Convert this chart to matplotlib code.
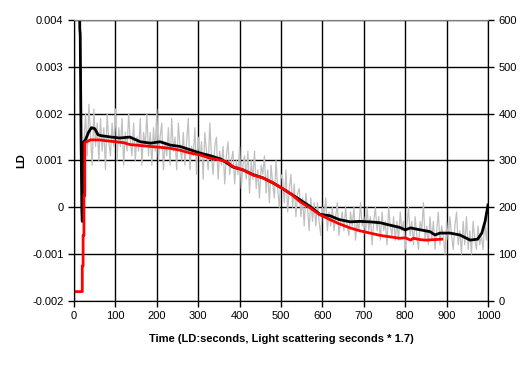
import numpy as np
import matplotlib

matplotlib.use("Agg")
import matplotlib.pyplot as plt

plt.rcParams["font.family"] = ["Liberation Sans", "DejaVu Sans"]

# LD, smoothed (units of 1e-4)
ld_smooth_t = [13, 14, 15, 17, 18, 19, 20, 21, 22, 24, 28, 35, 42, 50, 58, 65,
               90, 110, 135, 160, 185, 208, 232, 256, 280, 304, 330, 355, 384,
               408, 432, 456, 481, 502, 525, 546, 570, 594, 618, 640, 667, 690,
               715, 740, 763, 787, 800, 813, 836, 860, 872, 884, 908, 932, 957,
               975, 985, 993, 1000]
ld_smooth = [45, 38, 37, 15, 7, -1, -3, 3, 10, 14, 14.5, 16, 17, 16.8, 15.5, 15.3,
             15, 14.8, 15, 14, 13.7, 14, 13.3, 13, 12.3, 11.6, 11, 10.3, 8.6,
             8, 7, 6.3, 5.2, 4.1, 2.8, 1.6, 0.2, -1.5, -1.8, -2.6, -3.1, -3.0,
             -3.1, -3.3, -3.8, -4.3, -4.8, -4.4, -4.8, -5.2, -5.9, -5.5, -5.5, -5.9, -7,
             -6.8, -5.5, -3, 0.5]

# LD, raw (units of 1e-4), one value every 4 s from 24 s
ld_raw_start = 24
ld_raw_step = 4
ld_raw = [
    14, 20, 11, 22, 15, 9, 21, 13, 18, 10,
    19, 12, 17, 8, 20, 14, 11, 18, 13, 21,
    10, 17, 13, 19, 9, 16, 12, 20, 14, 11,
    18, 10, 15, 12, 19, 9, 16, 13, 20, 11,
    16, 9, 17, 12, 21, 10, 15, 18, 8, 14,
    11, 17, 9, 19, 12, 15, 8, 18, 13, 10,
    16, 9, 14, 19, 8, 13, 11, 17, 7, 15,
    10, 14, 6, 16, 12, 8, 18, 11, 7, 13,
    15, 6, 12, 9, 13, 5, 11, 14, 7, 10,
    12, 5, 10, 7, 13, 4, 9, 11, 6, 12,
    3, 10, 6, 12, 4, 8, 2, 9, 7, 11,
    3, 8, 1, 9, 5, 2, 10, 4, 0, 7,
    6, 1, 8, -1, 4, 7, 0, 5, -2, 3,
    4, -2, 2, -4, 3, 0, -5, 2, -3, 1,
    -4, 1, -3, -6, 0, -2, 2, -5, -1, -4,
    0, -5, -2, 1, -6, -3, -1, -5, 0, -4,
    -6, -1, -4, 0, -7, -3, -5, 1, -4, -2,
    -6, 0, -5, -2, -8, -3, 0, -5, -2, -7,
    -1, -5, -3, -8, 0, -4, -6, -2, -7, -3,
    -7, -1, -5, -3, -9, -4, 0, -6, -3, -8,
    -2, -6, -9, -3, -5, 1, -7, -4, -8, -2,
    -7, -3, -9, -5, -1, -8, -4, -6, -10, -3,
    -7, -2, -6, -9, -4, -1, -8, -5, -10, -3,
    -8, -2, -9, -5, -10, -3, -7, -9, -4, -8,
    -6, -9, -3, -7, -2,
]

# light scattering (right axis)
ls_t = [0, 20, 20, 22, 22, 24, 24, 26, 26, 30, 40, 60, 80, 100, 120, 135, 160,
        184, 210, 232, 256, 280, 304, 328, 353, 370, 384, 408, 432, 456, 481,
        502, 525, 546, 570, 594, 618, 640, 667, 690, 715, 740, 763, 787, 800,
        813, 820, 836, 850, 870, 888]
ls_val = [20, 20, 75, 75, 140, 140, 225, 225, 338, 340, 344, 344, 342, 340, 338,
          334, 332, 330, 328, 326, 322, 316, 312, 305, 301, 297, 287, 280, 269,
          263, 252, 241, 228, 212, 199, 184, 174, 165, 156, 150, 145, 140, 137,
          134, 135, 130, 134, 131, 130, 131, 132]

left_ticks = [-0.002, -0.001, 0, 0.001, 0.002, 0.003, 0.004]
left_labels = ["-0.002", "-0.001", "0", "0.001", "0.002", "0.003", "0.004"]

fig = plt.figure(figsize=(5.29, 3.76), dpi=100)
ax = fig.add_axes([0.1399, 0.1995, 0.7826, 0.7473])

raw_t = ld_raw_start + ld_raw_step * np.arange(len(ld_raw))
ax.plot(raw_t, np.array(ld_raw) * 1e-4, color="#c0c0c0", lw=0.9, zorder=2)
ax.plot(ld_smooth_t, np.array(ld_smooth) * 1e-4, color="black", lw=2, zorder=3)

ax.set_xlim(0, 1000)
ax.set_ylim(-0.002, 0.004)
ax.set_xticks(np.arange(0, 1001, 100))
ax.set_yticks(left_ticks)
ax.set_yticklabels(left_labels)
ax.grid(True, color="black", lw=1, zorder=1)
ax.set_axisbelow(True)
ax.tick_params(direction="out", length=4, labelsize=8, width=1)
ax.set_ylabel("LD", fontsize=8, fontweight="bold", labelpad=4)
ax.set_xlabel("Time (LD:seconds, Light scattering seconds * 1.7)", fontsize=8,
              fontweight="bold", labelpad=9)
ax.spines["top"].set_color("#808080")

ax2 = ax.twinx()
ax2.plot(ls_t, ls_val, color="red", lw=2)
ax2.set_ylim(0, 600)
ax2.set_yticks(np.arange(0, 601, 100))
ax2.tick_params(direction="out", length=4, labelsize=8, width=1)
ax2.spines["top"].set_color("#808080")

fig.savefig("out.png", dpi=100)
